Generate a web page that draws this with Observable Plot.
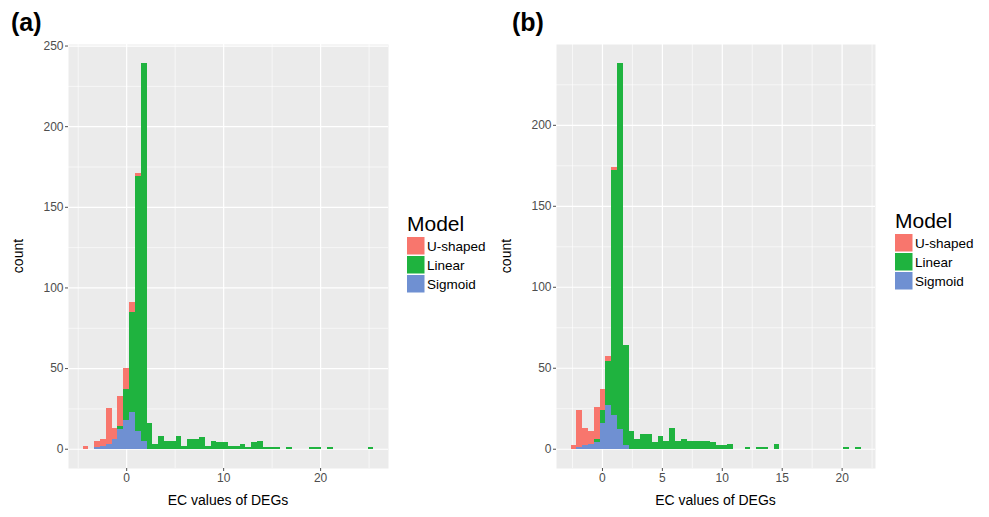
<!DOCTYPE html>
<html><head><meta charset="utf-8">
<script src="https://cdn.jsdelivr.net/npm/d3@7"></script>
<script src="https://cdn.jsdelivr.net/npm/@observablehq/plot@0.6"></script>
<style>
body{margin:0;background:#fff;}
#wrap{position:relative;width:989px;height:517px;overflow:hidden;font-family:"Liberation Sans",Arial,Helvetica,sans-serif;}
#wrap svg{position:absolute;top:0;}
</style></head><body><div id="wrap"></div>
<script>
const models = ["U-shaped", "Linear", "Sigmoid"];
const modelColors = ["#F8766D", "#1FB33F", "#6F90D2"];

// Panel (a): 50 bins
const aBinStart = -4.5, aBinWidth = 0.6;
const aUshaped = [2,0,4,4,22,7,19,13,6,2, 0,0,0,0,0,0,0,0,0,0, 0,0,0,0,0,0,0,0,0,0, 0,0,0,0,0,0,0,0,0,0, 0,0,0,0,0,0,0,0,0,0];
const aLinear  = [0,0,0,0,0,0,2,19,62,158, 234,16,3,8,5,5,8,2,6,6, 7,2,5,4,4,2,2,3,1,4, 5,1,1,1,0,1,0,0,0,1, 1,0,1,0,0,0,0,0,0,1];
const aSigmoid = [0,0,1,2,3,6,12,18,23,11, 5,0,0,0,0,0,0,0,0,0, 0,0,0,0,0,0,0,0,0,0, 0,0,0,0,0,0,0,0,0,0, 0,0,0,0,0,0,0,0,0,0];
const aXTicks = [0, 10, 20], aXMinor = [-5, 5, 15, 25];
const aYTicks = [0, 50, 100, 150, 200, 250], aYMinor = [25, 75, 125, 175, 225];

// Panel (b): 50 bins
const bBinStart = -2.625, bBinWidth = 0.484;
const bUshaped = [2,23,11,8,20,13,3,2,0,0, 0,0,0,0,0,0,0,0,0,0, 0,0,0,0,0,0,0,0,0,0, 0,0,0,0,0,0,0,0,0,0, 0,0,0,0,0,0,0,0,0,0];
const bLinear  = [0,0,0,0,2,8,27,151,226,62, 11,6,9,9,4,8,5,13,5,6, 5,5,5,5,4,2,2,3,0,0, 1,0,1,1,0,3,0,0,0,0, 0,0,0,0,0,0,0,1,0,1];
const bSigmoid = [0,1,2,3,4,16,27,21,12,2, 0,0,0,0,0,0,0,0,0,0, 0,0,0,0,0,0,0,0,0,0, 0,0,0,0,0,0,0,0,0,0, 0,0,0,0,0,0,0,0,0,0];
const bXTicks = [0, 5, 10, 15, 20], bXMinor = [-2.5, 2.5, 7.5, 12.5, 17.5, 22.5];
const bYTicks = [0, 50, 100, 150, 200], bYMinor = [25, 75, 125, 175, 225];

const FONT = '"Liberation Sans", Arial, Helvetica, sans-serif';

function buildTable(start, width, U, L, S) {
  const rows = [];
  for (let i = 0; i < U.length; i++) {
    const x1 = start + i * width, x2 = start + (i + 1) * width;
    for (const [model, arr] of [["Sigmoid", S], ["Linear", L], ["U-shaped", U]]) {
      if (arr[i] > 0) rows.push({x1, x2, count: arr[i], model});
    }
  }
  return rows;
}

function panel({start, width, U, L, S, xTicks, xMinor, yTicks, yMinor, left, svgWidth, marginLeft, marginRight}) {
  const n = U.length;
  const R = n * width;
  const yMax = d3.max(d3.range(n), i => U[i] + L[i] + S[i]);
  const table = buildTable(start, width, U, L, S);
  const chart = Plot.plot({
    width: svgWidth, height: 517,
    marginLeft, marginRight, marginTop: 44, marginBottom: 49,
    style: {background: "transparent", fontFamily: FONT, overflow: "visible"},
    x: {domain: [start - 0.05 * R, start + R + 0.05 * R]},
    y: {domain: [-0.05 * yMax, 1.05 * yMax]},
    color: {domain: models, range: modelColors},
    marks: [
      Plot.frame({fill: "#EBEBEB", stroke: "none"}),
      Plot.ruleX(xMinor, {stroke: "#fff", strokeWidth: 0.6}),
      Plot.ruleY(yMinor, {stroke: "#fff", strokeWidth: 0.6}),
      Plot.ruleX(xTicks, {stroke: "#fff", strokeWidth: 1.2}),
      Plot.ruleY(yTicks, {stroke: "#fff", strokeWidth: 1.2}),
      Plot.rectY(table, {x1: "x1", x2: "x2", y: "count", fill: "model", shapeRendering: "crispEdges"}),
      Plot.axisX(xTicks, {tickSize: 3, tickPadding: 2, fontSize: 12, color: "#4D4D4D", label: null}),
      Plot.axisY(yTicks, {tickSize: 3, tickPadding: 2, fontSize: 12, color: "#4D4D4D", label: null})
    ]
  });
  chart.style.left = left + "px";
  return chart;
}

const wrap = document.getElementById("wrap");
wrap.appendChild(panel({start: aBinStart, width: aBinWidth, U: aUshaped, L: aLinear, S: aSigmoid,
  xTicks: aXTicks, xMinor: aXMinor, yTicks: aYTicks, yMinor: aYMinor,
  left: 0, svgWidth: 400, marginLeft: 68, marginRight: 12}));
wrap.appendChild(panel({start: bBinStart, width: bBinWidth, U: bUshaped, L: bLinear, S: bSigmoid,
  xTicks: bXTicks, xMinor: bXMinor, yTicks: bYTicks, yMinor: bYMinor,
  left: 490, svgWidth: 400, marginLeft: 66, marginRight: 15}));

// Overlay: panel tags, axis titles, legends
const ov = d3.select(wrap).append("svg").attr("width", 989).attr("height", 517)
  .style("left", "0px").style("font-family", FONT);

function annotate(dx, dy, tagX, tag, panelLeft, panelRight) {
  ov.append("text").attr("x", tagX).attr("y", 31).attr("font-size", 25).attr("font-weight", "bold").text(tag);
  ov.append("text").attr("transform", `translate(${panelLeft - 45},256) rotate(-90)`)
    .attr("text-anchor", "middle").attr("font-size", 14).text("count");
  ov.append("text").attr("x", (panelLeft + panelRight) / 2).attr("y", 505)
    .attr("text-anchor", "middle").attr("font-size", 14).text("EC values of DEGs");
  const lx = 407 + dx, ly = 237 + dy;
  ov.append("text").attr("x", lx).attr("y", 231 + dy).attr("font-size", 21).text("Model");
  models.forEach((m, i) => {
    ov.append("rect").attr("x", lx).attr("y", ly + i * 19).attr("width", 17.5).attr("height", 17.5).attr("fill", modelColors[i]);
    ov.append("text").attr("x", lx + 20).attr("y", ly + i * 19 + 13.5).attr("font-size", 13.5).text(m);
  });
}
annotate(0, 0, 11, "(a)", 68, 388);
annotate(488, -3, 512, "(b)", 556, 875);
</script></body></html>
